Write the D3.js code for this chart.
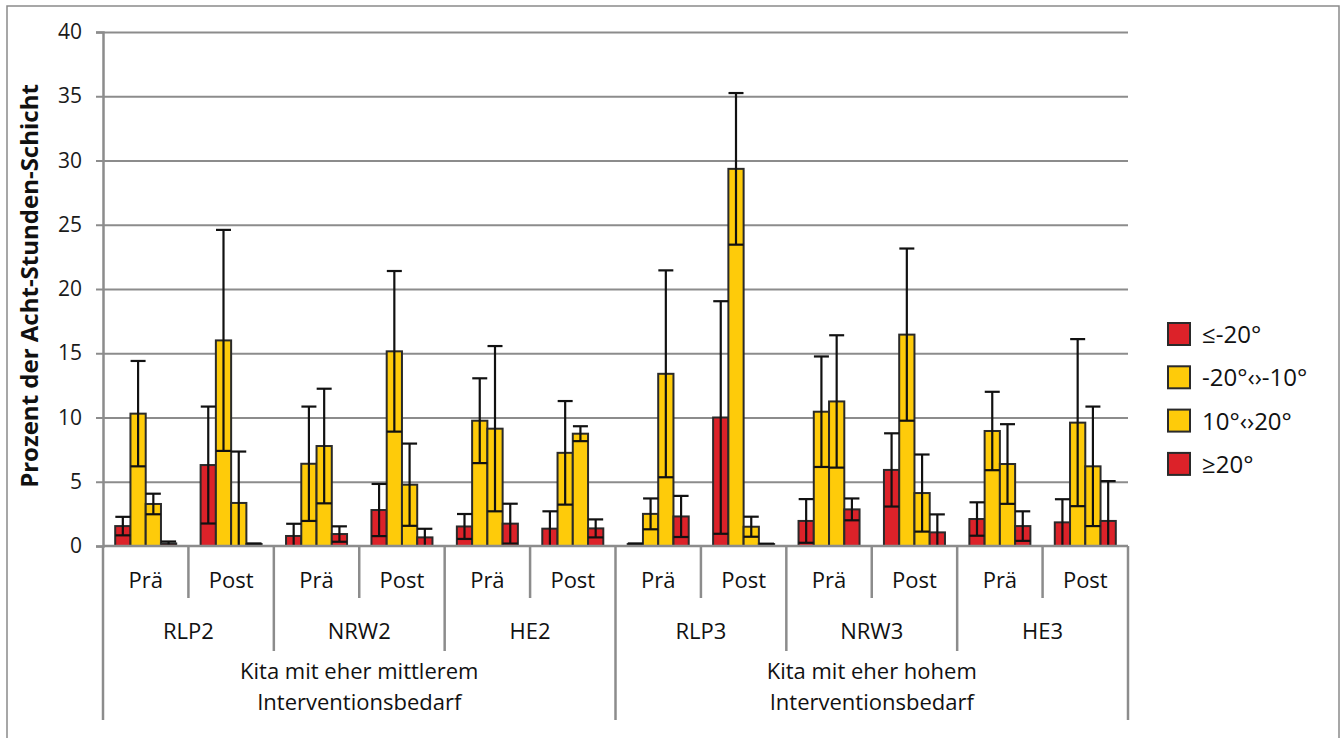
<!DOCTYPE html>
<html>
<head>
<meta charset="utf-8">
<script src="https://cdn.jsdelivr.net/npm/d3@7"></script>
<style>
  html, body { margin: 0; padding: 0; background: #fff; }
  svg { display: block; font-family: "Open Sans", "Noto Sans", sans-serif; }
</style>
</head>
<body>
<svg id="chart" width="1340" height="738"></svg>
<script>
// ---- data ----
const phases = ["Prä", "Post"];
const sites = ["RLP2", "NRW2", "HE2", "RLP3", "NRW3", "HE3"];
const groupLabels = [["Kita mit eher mittlerem", "Interventionsbedarf"], ["Kita mit eher hohem", "Interventionsbedarf"]];
const seriesNames = ["≤-20°", "-20°‹›-10°", "10°‹›20°", "≥20°"];
const yTicks = [0, 5, 10, 15, 20, 25, 30, 35, 40];
const yLabel = "Prozent der Acht-Stunden-Schicht";

// one value per category (site x phase), in order RLP2 Prä, RLP2 Post, NRW2 Prä, ...
const valLe20   = [1.55, 6.3, 0.78, 2.8, 1.52, 1.35, 0.15, 10.0, 1.95, 5.92, 2.1, 1.84];
const errLe20   = [0.72, 4.55, 0.95, 2.03, 0.97, 1.35, 0.05, 9.05, 1.7, 2.85, 1.3, 1.8];
const valM20M10 = [10.3, 16.0, 6.4, 15.15, 9.75, 7.25, 2.5, 29.35, 10.45, 16.45, 8.95, 9.6];
const errM20M10 = [4.1, 8.6, 4.45, 6.25, 3.3, 4.03, 1.2, 5.9, 4.3, 6.7, 3.05, 6.5];
const val10_20  = [3.27, 3.35, 7.78, 4.77, 9.13, 8.74, 13.4, 1.5, 11.25, 4.12, 6.38, 6.2];
const err10_20  = [0.8, 4.0, 4.46, 3.2, 6.43, 0.58, 8.05, 0.78, 5.15, 3.0, 3.1, 4.65];
const valGe20   = [0.2, 0.15, 0.93, 0.67, 1.74, 1.37, 2.3, 0.15, 2.85, 1.06, 1.55, 1.95];
const errGe20   = [0.15, 0.05, 0.6, 0.67, 1.55, 0.7, 1.6, 0.03, 0.85, 1.4, 1.15, 3.1];

const seriesColors = ["#dc2229", "#fecb0a", "#fecb0a", "#dc2229"];

// ---- build table ----
const categories = [];
sites.forEach(s => phases.forEach(p => categories.push({ site: s, phase: p, id: s + "_" + p })));
const seriesVals = [valLe20, valM20M10, val10_20, valGe20];
const seriesErrs = [errLe20, errM20M10, err10_20, errGe20];
const bars = [];
categories.forEach((c, i) => {
  seriesNames.forEach((s, j) => {
    bars.push({ cat: c.id, series: s, idx: j, value: seriesVals[j][i], err: seriesErrs[j][i] });
  });
});

// ---- layout ----
const svg = d3.select("#chart");
const pLeft = 103, pRight = 1128, pTop = 32, pBottom = 546;

const x = d3.scaleBand().domain(categories.map(c => c.id)).range([pLeft, pRight]).paddingInner(0).paddingOuter(0);
const xs = d3.scaleBand().domain(seriesNames).range([0, x.bandwidth()]).paddingInner(0).paddingOuter(0.8);
const y = d3.scaleLinear().domain([0, 40]).range([pBottom, pTop]).clamp(true);

const gridColor = "#8c8c8c";

// outer border
svg.append("rect").attr("x", 7).attr("y", 6).attr("width", 1332).attr("height", 800)
  .attr("fill", "none").attr("stroke", "#8a8a8a").attr("stroke-width", 1.5);

// gridlines
const grid = svg.append("g").attr("transform", `translate(${pLeft},0)`)
  .call(d3.axisLeft(y).tickValues(yTicks.slice(1)).tickSize(-(pRight - pLeft)).tickFormat(""));
grid.select(".domain").remove();
grid.selectAll("line").attr("stroke", gridColor).attr("stroke-width", 2);

// y axis with labels
const yAxis = svg.append("g").attr("transform", `translate(${pLeft},0)`)
  .call(d3.axisLeft(y).tickValues(yTicks).tickSize(7).tickPadding(14).tickFormat(d3.format("d")));
yAxis.select(".domain").attr("stroke", gridColor).attr("stroke-width", 2.5);
yAxis.selectAll(".tick line").attr("stroke", gridColor).attr("stroke-width", 2);
yAxis.selectAll(".tick text").attr("font-size", 21).attr("fill", "#1a1a1a")
  .attr("font-family", "'Open Sans', sans-serif");

// y label
svg.append("text")
  .attr("transform", `translate(38,286) rotate(-90)`)
  .attr("text-anchor", "middle")
  .attr("font-size", 24).attr("font-weight", "bold").attr("fill", "#111")
  .text(yLabel);

// bars
const barG = svg.append("g");
barG.selectAll("rect").data(bars).join("rect")
  .attr("x", d => x(d.cat) + xs(d.series))
  .attr("y", d => y(d.value))
  .attr("width", xs.bandwidth())
  .attr("height", d => y(0) - y(d.value))
  .attr("fill", d => seriesColors[d.idx])
  .attr("stroke", "#2a2a2a").attr("stroke-width", 2);

// error bars
const capW = 15;
const errG = svg.append("g").attr("stroke", "#111").attr("stroke-width", 2.2);
bars.forEach(d => {
  const cx = x(d.cat) + xs(d.series) + xs.bandwidth() / 2;
  const hi = d.value + d.err, lo = d.value - d.err;
  errG.append("line").attr("x1", cx).attr("x2", cx).attr("y1", y(hi)).attr("y2", y(Math.max(0, lo)));
  errG.append("line").attr("x1", cx - capW / 2).attr("x2", cx + capW / 2).attr("y1", y(hi)).attr("y2", y(hi));
  if (lo > 0.05) {
    errG.append("line").attr("x1", cx - capW / 2).attr("x2", cx + capW / 2).attr("y1", y(lo)).attr("y2", y(lo));
  }
});

// x axis baseline
svg.append("line").attr("x1", pLeft).attr("x2", pRight).attr("y1", pBottom).attr("y2", pBottom)
  .attr("stroke", gridColor).attr("stroke-width", 2.5);

// category separators
const sepG = svg.append("g").attr("stroke", gridColor).attr("stroke-width", 2.5);
const yLvl1 = 598, yLvl2 = 651, yLvl3 = 720;
categories.forEach((c, i) => {
  const xb = x(c.id);
  let yEnd = yLvl1;
  if (i % 2 === 0) yEnd = yLvl2;
  if (i % 6 === 0) yEnd = yLvl3;
  sepG.append("line").attr("x1", xb).attr("x2", xb).attr("y1", pBottom).attr("y2", yEnd);
});
sepG.append("line").attr("x1", pRight).attr("x2", pRight).attr("y1", pBottom).attr("y2", yLvl3);

// category labels
const labG = svg.append("g").attr("fill", "#111").attr("text-anchor", "middle").attr("font-size", 22);
categories.forEach(c => {
  labG.append("text").attr("x", x(c.id) + x.bandwidth() / 2).attr("y", 588).text(c.phase);
});
sites.forEach((s, i) => {
  const x0 = x(s + "_" + phases[0]);
  const x1 = x(s + "_" + phases[1]) + x.bandwidth();
  labG.append("text").attr("x", (x0 + x1) / 2).attr("y", 639).text(s);
});
groupLabels.forEach((g, i) => {
  const x0 = x(sites[i * 3] + "_" + phases[0]);
  const x1 = x(sites[i * 3 + 2] + "_" + phases[1]) + x.bandwidth();
  g.forEach((line, k) => {
    labG.append("text").attr("x", (x0 + x1) / 2).attr("y", 679 + k * 31).text(line);
  });
});

// legend
const legG = svg.append("g");
seriesNames.forEach((s, i) => {
  const yy = 323 + i * 43.3;
  legG.append("rect").attr("x", 1168).attr("y", yy).attr("width", 22).attr("height", 22)
    .attr("fill", seriesColors[i]).attr("stroke", "#2a2a2a").attr("stroke-width", 2);
  legG.append("text").attr("x", 1202).attr("y", yy + 20).attr("font-size", 24).attr("fill", "#111").text(s);
});
</script>
</body>
</html>
